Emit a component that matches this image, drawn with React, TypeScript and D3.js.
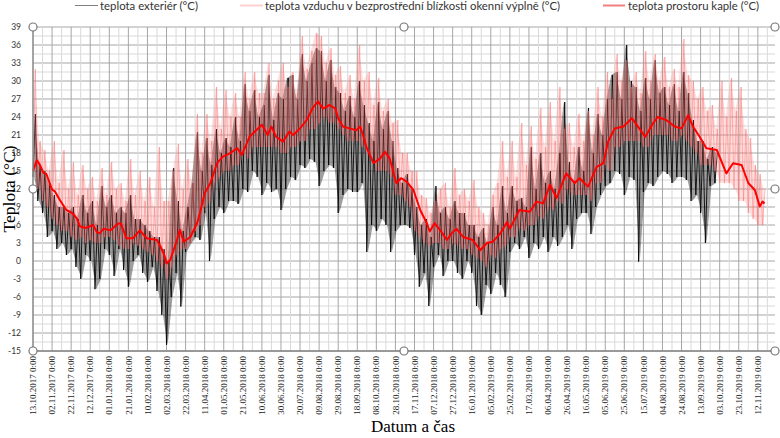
import React from "react";
import * as d3 from "d3";

// one value every 2.5 days, starting 13.10.2017 0:00
const stepDays = 2.5;
const totalDays = 778;
const startLabel = "13.10.2017";

const dateLabels = [
  "13.10.2017 0:00", "02.11.2017 0:00", "22.11.2017 0:00", "12.12.2017 0:00",
  "01.01.2018 0:00", "21.01.2018 0:00", "10.02.2018 0:00", "02.03.2018 0:00",
  "22.03.2018 0:00", "11.04.2018 0:00", "01.05.2018 0:00", "21.05.2018 0:00",
  "10.06.2018 0:00", "30.06.2018 0:00", "20.07.2018 0:00", "09.08.2018 0:00",
  "29.08.2018 0:00", "18.09.2018 0:00", "08.10.2018 0:00", "28.10.2018 0:00",
  "17.11.2018 0:00", "07.12.2018 0:00", "27.12.2018 0:00", "16.01.2019 0:00",
  "05.02.2019 0:00", "25.02.2019 0:00", "17.03.2019 0:00", "06.04.2019 0:00",
  "26.04.2019 0:00", "16.05.2019 0:00", "05.06.2019 0:00", "25.06.2019 0:00",
  "15.07.2019 0:00", "04.08.2019 0:00", "24.08.2019 0:00", "13.09.2019 0:00",
  "03.10.2019 0:00", "23.10.2019 0:00", "12.11.2019 0:00",
];

const yTicks = [-15, -12, -9, -6, -3, 0, 3, 6, 9, 12, 15, 18, 21, 24, 27, 30, 33, 36, 39];

const exteriorTemp = [
  14, 24.5, 10, 16, 8, 15, 4, 13, 5, 11, 2, 9, 3, 9, 1, 8,
  2, 9, -1, 7, -3, 11, 1, 8, 0, 10, -4.7, 6, -3, 12.5, 2, 9,
  1, 11, -2.5, 8, 2, 9, -1.5, 8, -4.3, 11, 0, 7, 1, 7, -2, 6,
  -3.5, 5, -1, 4, -5, 4, -9, 2, -14, 0, -6, 15.5, -2, 10, -7.6, 5,
  1.5, 9, 3, 13, 4, 21.5, 3.5, 15, 8, 20.5, 0, 16, 7, 22, 9, 18,
  8, 20.5, 10, 19, 10, 24, 9.5, 20, 12, 29.5, 11.5, 25, 15, 28.5, 14, 24,
  11, 26, 13, 31, 11.5, 23.5, 12, 28, 8.5, 27, 12, 30.5, 14, 31, 13.5, 27,
  16, 34.5, 15.5, 30, 17, 33, 16.5, 35.5, 12.5, 35, 15, 30, 16, 33.5, 15.5, 29,
  8, 28, 11, 25, 12, 27.5, 11.5, 24, 11.5, 30, 13, 26, 1.5, 23, 6, 20,
  5, 26.5, 7, 22, 6, 25, 1.5, 20, 5, 15.5, 6, 13, 6, 14.5, 5.5, 12,
  1, 9, -4.3, 6, -2, 7, -7.5, 4, -1, 12.5, 1, 8, -2.5, 9, 0, 7,
  0, 10, -2, 8, -3, 8, 0, 6, -2, 6, -7.5, 4, -9, 5.5, -4, 3,
  -5.5, 9, -2, 6, -4, 12.5, -6, 8, 1.5, 12.5, 3, 10, 2, 10.5, 4, 9,
  0.5, 19, 3, 12, 2, 18, 4, 13, 1.5, 15, 4, 12, 2.5, 18, 4, 26.5,
  6, 16.5, 2, 13, 7, 19, 8, 15, 8, 25.5, 4.5, 18, 9, 24.5, 11, 21,
  12.5, 27, 13, 31, 15, 31.5, 14.5, 27, 11, 36, 14, 30, 13.5, 29, -0.1, 25,
  11.5, 30.5, 13, 27, 12.5, 33.5, 14, 28, 15, 29, 14.5, 26, 13, 29.5, 14, 25,
  14, 31.5, 13.5, 28, 10, 23.5, 11, 20, 8, 20, 3, 17, 12.5, 19, 13, 18,
];

const windowTemp = [
  15, 32, 12, 20, 10, 18.5, 9, 15, 7, 20, 6, 13, 5, 18.5, 5, 12,
  4, 16.5, 3.5, 11, 4, 16, 3, 12, 3.5, 14, 3, 10, 3, 15.5, 4, 11,
  4, 16.5, 3.5, 12, 2.5, 13, 2, 10, 2, 17, 3, 11, 2.5, 15, 2, 10,
  1.5, 14, 1, 9, 0, 19, -1, 10, -3, 10, -1, 15, 1, 19.5, 2, 12,
  2, 17, 3, 13, 5, 24.5, 6, 18, 9, 24.5, 10, 20, 13, 29, 14, 22,
  15, 28.5, 15, 24, 16, 28, 16, 24, 18, 31.5, 17, 27, 19, 31.5, 19, 28,
  19, 28, 19, 33, 19, 27, 19, 30, 18, 33, 18, 29, 19, 31.5, 19, 28,
  20, 37.5, 20, 32, 22, 35, 22, 38, 23, 37.5, 24, 33, 23, 35.5, 23, 31,
  22, 32.5, 21, 28, 20, 31, 20, 27, 20, 36, 19, 30, 18, 31.5, 17, 26,
  15, 30.5, 15, 25, 15, 27, 14, 23, 11, 23.5, 11, 18, 10, 18, 9, 15,
  5, 15, 4, 11, 3, 10.5, 2.5, 8, 3, 10, 3, 12, 2, 13, 2, 9,
  3, 15.5, 2.5, 11, 2, 12, 2, 10, 1, 13.5, 0.5, 9, 0, 8, -1, 6,
  1, 11, 0.5, 13, 2, 20, 2.5, 14, 4, 20, 4, 14, 5.5, 23, 5, 16,
  6, 22.5, 6, 17, 7.5, 25.5, 7, 19, 9, 26.5, 8.5, 20, 10, 29, 9.5, 22,
  12, 23, 11, 19, 11, 24.5, 11, 20, 11, 25, 10, 21, 13, 29, 13, 24,
  16, 31.5, 15, 27, 19, 34.5, 19, 30, 20, 33.5, 20, 29, 20, 31.5, 20, 28,
  19, 35, 19, 30, 21, 34.5, 21, 30, 21, 34, 21, 29, 20, 32, 20, 29,
  21, 37, 20, 31, 19, 30, 18, 27, 16, 29, 16, 25, 16, 26, 15, 22,
  13, 30, 13, 24, 13, 30.5, 12, 25, 10, 29, 10, 22, 8, 20.5, 7, 16,
  6, 14.5, 6, 12,
];

const chapelDays = [
  0, 4, 7, 11, 14, 20, 23, 28, 35, 41, 46, 49, 55, 60, 63, 67, 70, 74, 81, 89,
  92, 98, 105, 112, 119, 130, 137, 140, 144, 151, 154, 158, 165, 172, 175, 180, 186, 193, 199, 206,
  214, 219, 227, 240, 246, 250, 255, 262, 269, 273, 280, 287, 294, 299, 304, 311, 317, 320, 325, 332,
  339, 343, 346, 350, 357, 364, 369, 374, 381, 386, 392, 399, 406, 413, 416, 421, 428, 434, 439, 444,
  451, 461, 469, 476, 482, 490, 497, 500, 510, 521, 528, 535, 542, 549, 559, 568, 573, 582, 591, 598,
  603, 610, 619, 628, 633, 642, 650, 655, 664, 673, 680, 687, 692, 699, 706, 717, 727, 734, 743, 750,
  757, 762, 765, 767,
];
const chapelTemp = [
  15, 16.8, 16.1, 14.7, 14.5, 11.9, 11.6, 10.2, 8.5, 8, 7.1, 5.8, 5.5, 5.8, 6, 4.8, 4.6, 5.4, 5.1, 6.2,
  6.3, 3.8, 3.8, 5.1, 3.8, 3.5, 1.3, -0.4, 0.2, 3.5, 5.2, 3.2, 4, 6.3, 8, 11.3, 13, 16.3, 17.4, 17.9,
  18.8, 17.7, 20.7, 22.7, 21, 22.4, 20.7, 19.9, 21.6, 21, 22.1, 23.5, 25.7, 26.6, 25.4, 26, 25.4, 23.8, 22.4, 22.1,
  21.8, 22.4, 21, 18.8, 16.3, 17.1, 18.2, 17.1, 13, 13.8, 13.2, 11.8, 8.5, 6.3, 4.9, 6.3, 4.9, 3.5, 4.6, 5.4,
  4, 3.5, 1.8, 3, 3.2, 4.6, 6.5, 5.4, 8.5, 8.2, 9.9, 9.6, 12.7, 10.5, 14.6, 13, 13.8, 12.4, 15.7, 16.3,
  19.9, 22.1, 22.4, 23.8, 22.7, 20.7, 22.9, 24, 23.5, 22.4, 22.1, 24.3, 22.4, 20.7, 18.8, 18.5, 14.6, 16.3, 16, 13,
  11.8, 9.1, 9.9, 9.6,
];

const W = 780;
const H = 438;
const left = 33;
const right = 775;
const top = 27;
const bottom = 351;

const parseDay = d3.utcParse("%d.%m.%Y");
const start = parseDay(startLabel) as Date;
const atDay = (d: number) => d3.utcHour.offset(start, Math.round(d * 24));

// consecutive low/high readings -> one band slice
const pairs = (vals: number[]) =>
  d3.range(0, vals.length - 1, 2).map((i) => ({
    day: i * stepDays + stepDays / 2,
    lo: Math.min(vals[i], vals[i + 1]),
    hi: Math.max(vals[i], vals[i + 1]),
  }));

export default function App() {
  const x = d3.scaleUtc().domain([start, atDay(totalDays)]).range([left, right]);
  const y = d3.scaleLinear().domain([-15, 39]).range([bottom, top]);

  const line = d3
    .line<[number, number]>()
    .x((d) => x(atDay(d[0])))
    .y((d) => y(d[1]));

  const band = d3
    .area<{ day: number; lo: number; hi: number }>()
    .x((d) => x(atDay(d.day)))
    .y0((d) => y(d.lo))
    .y1((d) => y(d.hi));

  const stepped = (vals: number[]) => vals.map((v, i) => [i * stepDays, v] as [number, number]);
  const chapel = chapelDays.map((d, i) => [d, chapelTemp[i]] as [number, number]);

  const hGrid = d3.range(-15, 39.01, 1.5);
  const vGrid = d3.range(10, totalDays, 10);

  const handles = [
    [left, top], [(left + right) / 2, top], [right, top],
    [left, (top + bottom) / 2], [right, (top + bottom) / 2],
    [left, bottom], [(left + right) / 2, bottom], [right, bottom],
  ];

  return (
    <svg width={W} height={H} style={{ position: "absolute", left: 0, top: 0, background: "#fff" }}>
      {/* grid */}
      {hGrid.map((v, i) => (
        <line key={"h" + i} x1={left} x2={right} y1={y(v)} y2={y(v)}
          stroke={i % 2 === 0 ? "#a6a6a6" : "#d9d9d9"} strokeWidth={1} />
      ))}
      {vGrid.map((d, i) => (
        <line key={"v" + i} x1={x(atDay(d))} x2={x(atDay(d))} y1={top} y2={bottom}
          stroke={i % 2 === 1 ? "#a6a6a6" : "#d9d9d9"} strokeWidth={1} />
      ))}

      {/* exterior */}
      <path d={band(pairs(exteriorTemp)) || ""} fill="#000" fillOpacity={0.38} />
      <path d={line(stepped(exteriorTemp)) || ""} fill="none" stroke="#000" strokeOpacity={0.85} strokeWidth={1} />
      {/* near the window */}
      <path d={band(pairs(windowTemp)) || ""} fill="#ff6b6b" fillOpacity={0.22} />
      <path d={line(stepped(windowTemp)) || ""} fill="none" stroke="#ff6b6b" strokeOpacity={0.45} strokeWidth={1} />
      {/* chapel interior */}
      <path d={line(chapel) || ""} fill="none" stroke="#ff0000" strokeWidth={2} strokeLinejoin="round" />

      {/* axes */}
      <line x1={left} x2={left} y1={top} y2={bottom} stroke="#868686" strokeWidth={1.5} />
      <line x1={left} x2={right} y1={bottom} y2={bottom} stroke="#868686" strokeWidth={1.5} />
      {yTicks.map((t) => (
        <text key={t} x={21} y={y(t)} dy="0.35em" textAnchor="end"
          fontFamily="Lato, 'Open Sans', sans-serif" fontSize={8.5} fill="#333">{t}</text>
      ))}
      {dateLabels.map((lab) => {
        const px = x(parseDay(lab.split(" ")[0]) as Date);
        return (
          <text key={lab} transform={`translate(${px},356) rotate(-90)`} dy="0.35em" textAnchor="end"
            fontFamily="'Liberation Serif', 'DejaVu Serif', serif" fontSize={9} fill="#222">{lab}</text>
        );
      })}

      {/* titles */}
      <text transform={`translate(15,${(top + bottom) / 2}) rotate(-90)`} textAnchor="middle"
        fontFamily="'Liberation Serif', serif" fontSize={17.5} fill="#000">Teplota (°C)</text>
      <text x={413} y={432} textAnchor="middle"
        fontFamily="'Liberation Serif', serif" fontSize={17} fill="#000">Datum a čas</text>

      {/* legend */}
      <line x1={75} x2={98} y1={5.5} y2={5.5} stroke="#7f7f7f" strokeWidth={1} />
      <text x={100} y={9.5} fontFamily="Lato, sans-serif" fontSize={11} fill="#333"
        textLength={98} lengthAdjust="spacingAndGlyphs">teplota exteriér (°C)</text>
      <line x1={240} x2={263} y1={5.5} y2={5.5} stroke="#ffd0d0" strokeWidth={2} />
      <text x={265} y={9.5} fontFamily="Lato, sans-serif" fontSize={11} fill="#333"
        textLength={295} lengthAdjust="spacingAndGlyphs">teplota vzduchu v bezprostřední blízkosti okenní výplně (°C)</text>
      <line x1={603} x2={625} y1={5.5} y2={5.5} stroke="#f08080" strokeWidth={2} />
      <text x={628} y={9.5} fontFamily="Lato, sans-serif" fontSize={11} fill="#333"
        textLength={131} lengthAdjust="spacingAndGlyphs">teplota prostoru kaple (°C)</text>

      {/* selection handles */}
      {handles.map(([hx, hy], i) => (
        <circle key={"c" + i} cx={hx} cy={hy} r={4} fill="#fff" stroke="#777" strokeWidth={1.2} />
      ))}
    </svg>
  );
}
